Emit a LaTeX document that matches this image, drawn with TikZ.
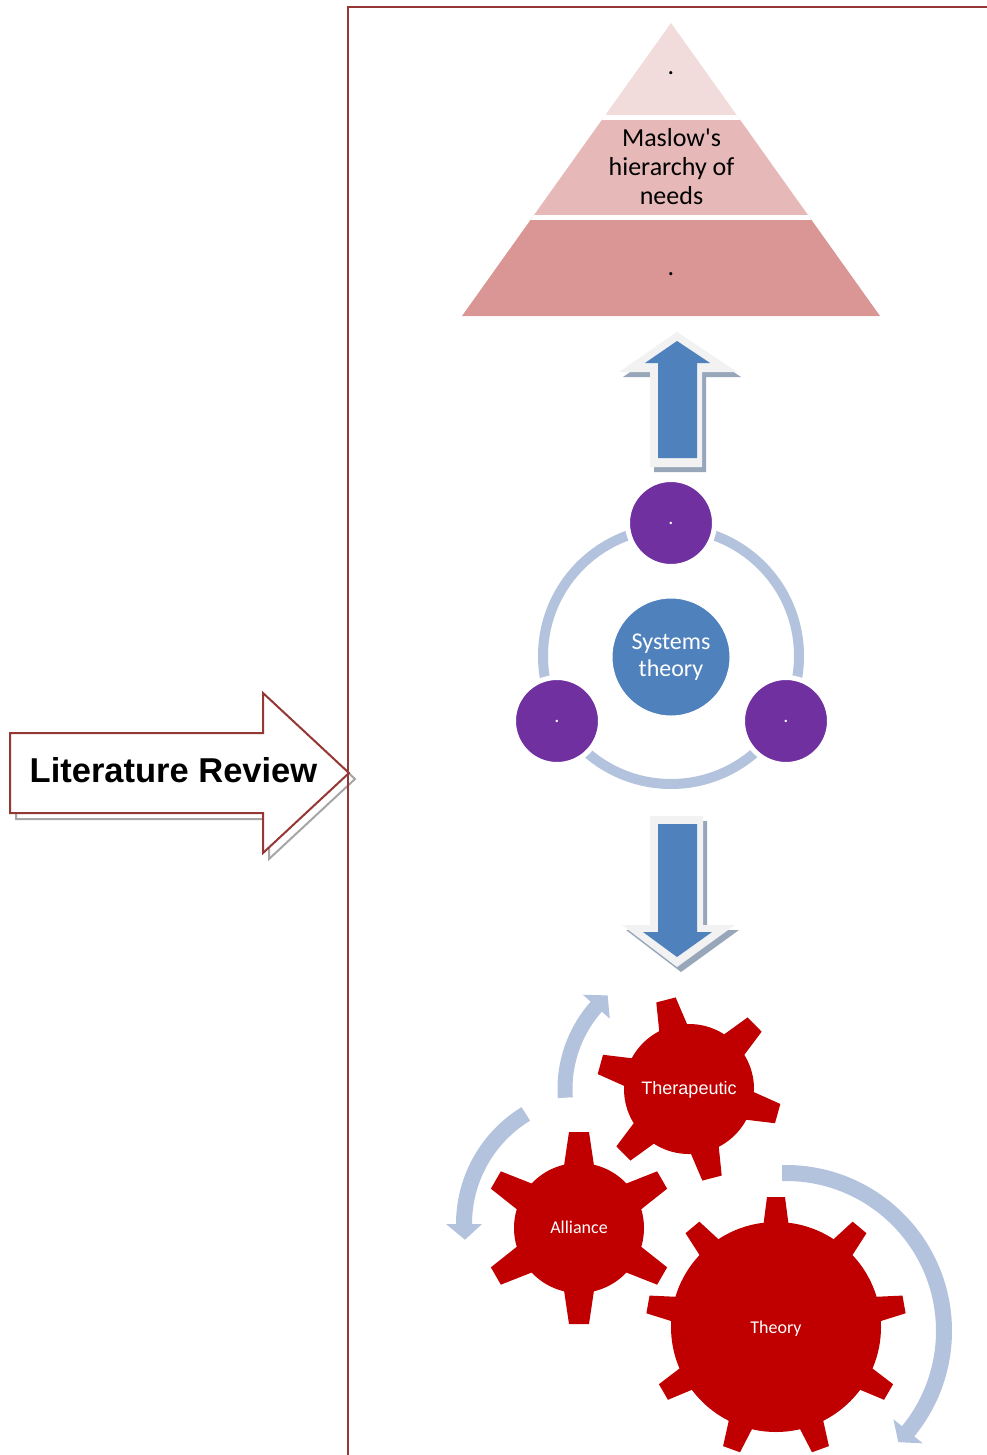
\documentclass[tikz,border=0pt]{standalone}
\usepackage{fontspec}
\setmainfont{Carlito}
\newfontfamily\arialfont{Liberation Sans}

\definecolor{framered}{HTML}{953735}
\definecolor{shadowgray}{HTML}{A6A6A6}
\definecolor{pyrtop}{HTML}{F2DCDB}
\definecolor{pyrmid}{HTML}{E6B9B8}
\definecolor{pyrbot}{HTML}{D99694}
\definecolor{blockblue}{HTML}{4F81BD}
\definecolor{blockrim}{HTML}{F2F2F2}
\definecolor{blockshade}{HTML}{97A6B9}
\definecolor{ringblue}{HTML}{B3C3DD}
\definecolor{purp}{HTML}{7030A0}
\definecolor{cogred}{HTML}{C00000}

\tikzset{
  framestyle/.style={draw=framered, line width=2pt},
  purpnode/.style={circle, fill=purp, draw=white, line width=5pt, minimum size=87pt,
    inner sep=0pt, text=white, font=\fontsize{20}{20}\selectfont},
  sysnode/.style={circle, fill=blockblue, draw=white, line width=1pt, minimum size=118pt,
    inner sep=0pt, text=white, align=center, font=\fontsize{24}{27}\selectfont},
  cogtext/.style={text=white, inner sep=0pt, anchor=base, font=\fontsize{18}{18}\selectfont},
  pyrdot/.style={anchor=base, inner sep=0pt, font=\fontsize{26}{26}\selectfont},
}

% gear: centre x, centre y, body radius, tip radius, base half width, tip half width, tooth angles
\newcommand\cog[7]{%
  \begin{scope}[shift={(#1,#2)}]
    \foreach \a in {#7}{\draw[white, line width=5pt, line join=round, rotate=\a]
      (#3-6,-#5) -- (#4,-#6) -- (#4,#6) -- (#3-6,#5) -- cycle;}
    \draw[white, line width=5pt] (0,0) circle (#3);
    \fill[cogred] (0,0) circle (#3);
    \foreach \a in {#7}{\fill[cogred, rotate=\a]
      (#3-6,-#5) -- (#4,-#6) -- (#4,#6) -- (#3-6,#5) -- cycle;}
  \end{scope}}

\begin{document}
\begin{tikzpicture}[x=1pt, y=1pt]
\fill[white] (0,0) rectangle (986,-1455);
\useasboundingbox (0,0) rectangle (986,-1455);

% ---- Literature Review block arrow ----
\draw[shadowgray, line width=2pt, shift={(6,-6)}]
  (10,-733) -- (263,-733) -- (263,-693) -- (349,-773) -- (263,-853) -- (263,-813) -- (10,-813) -- cycle;
\draw[framestyle, fill=white]
  (10,-733) -- (263,-733) -- (263,-693) -- (349,-773) -- (263,-853) -- (263,-813) -- (10,-813) -- cycle;
\node[anchor=base, inner sep=0pt, font=\arialfont\bfseries\fontsize{34.5}{40}\selectfont]
  (lit) at (173.5,-782) {Literature Review};

% ---- frame ----
\draw[framestyle] (348,-1456) -- (348,-7) -- (987,-7);

% ---- pyramid ----
\begin{scope}
  \clip (671,-23) -- (880,-316) -- (462,-316) -- cycle;
  \fill[pyrtop] (450,0) rectangle (900,-118);
  \fill[pyrmid] (450,-118) rectangle (900,-218);
  \fill[pyrbot] (450,-218) rectangle (900,-320);
  \draw[white, line width=5pt] (450,-118) -- (900,-118) (450,-218) -- (900,-218);
\end{scope}
\node[pyrdot] (topdot) at (671,-75) {.};
\node[align=center, inner sep=0pt, font=\fontsize{26}{29}\selectfont]
  (maslow) at (671.5,-167) {Maslow\textquotesingle s\\hierarchy of\\needs};
\node[pyrdot] (basedot) at (671,-275) {.};

% ---- upward block arrow ----
\fill[blockshade, shift={(4,-5)}]
  (650,-467) -- (650,-372) -- (619,-372) -- (677,-332) -- (737,-372) -- (702,-372) -- (702,-467) -- cycle;
\fill[blockrim]
  (650,-467) -- (650,-372) -- (619,-372) -- (677,-332) -- (737,-372) -- (702,-372) -- (702,-467) -- cycle;
\fill[blockblue]
  (658,-458) -- (658,-363) -- (645,-363) -- (677,-341) -- (710,-363) -- (697,-363) -- (697,-458) -- cycle;

% ---- systems cycle ----
\draw[ringblue, line width=10pt] (671,-656) circle (128);
\node[purpnode] (pA) at (671,-523) {.};
\node[purpnode] (pB) at (557,-721) {.};
\node[purpnode] (pC) at (786,-721) {.};
\node[sysnode] (sys) at (671,-657) {Systems\\theory};

% ---- downward block arrow ----
\fill[blockshade, shift={(4,-5)}]
  (650,-816) -- (703,-816) -- (703,-925) -- (735,-925) -- (677,-967) -- (622,-925) -- (650,-925) -- cycle;
\fill[blockrim]
  (650,-816) -- (703,-816) -- (703,-925) -- (735,-925) -- (677,-967) -- (622,-925) -- (650,-925) -- cycle;
\fill[blockblue]
  (658,-824) -- (697,-824) -- (697,-932) -- (712,-932) -- (677,-957) -- (643,-932) -- (658,-932) -- cycle;

% ---- circular arrows around the gears ----
\begin{scope}[shift={(689,-1089)}]
  \draw[ringblue, line width=15pt] (184:124) arc[start angle=184, end angle=138, radius=124];
  \fill[ringblue] (138.4:106) -- (138.4:142) -- (131:124) -- cycle;
\end{scope}
\begin{scope}[shift={(593,-1224)}]
  \draw[ringblue, line width=16pt] (121.4:129) arc[start angle=121.4, end angle=180.5, radius=129];
  \fill[ringblue] (180:111) -- (180:147) -- (187:129) -- cycle;
\end{scope}
\begin{scope}[shift={(786,-1331)}]
  \draw[ringblue, line width=16pt] (91.4:158) arc[start angle=91.4, end angle=-39.8, radius=158];
  \fill[ringblue] (-39.4:139) -- (-39.4:177) -- (-44.7:158) -- cycle;
\end{scope}

% ---- gears ----
\cog{776}{-1327}{105}{130}{13}{9}{90,130,170,210,250,290,330,10,50}
\cog{579}{-1228}{65}{96}{15.5}{10}{90,30,-30,-90,-150,150}
\cog{689}{-1089}{65}{92}{15}{10}{104.5,44.5,-15.5,-75.5,-135.5,164.5}

\node[cogtext, font=\arialfont\fontsize{18}{18}\selectfont] (ther) at (689,-1094) {Therapeutic};
\node[cogtext] (alli) at (579,-1233) {Alliance};
\node[cogtext] (theo) at (776,-1333) {Theory};
\end{tikzpicture}
\end{document}
